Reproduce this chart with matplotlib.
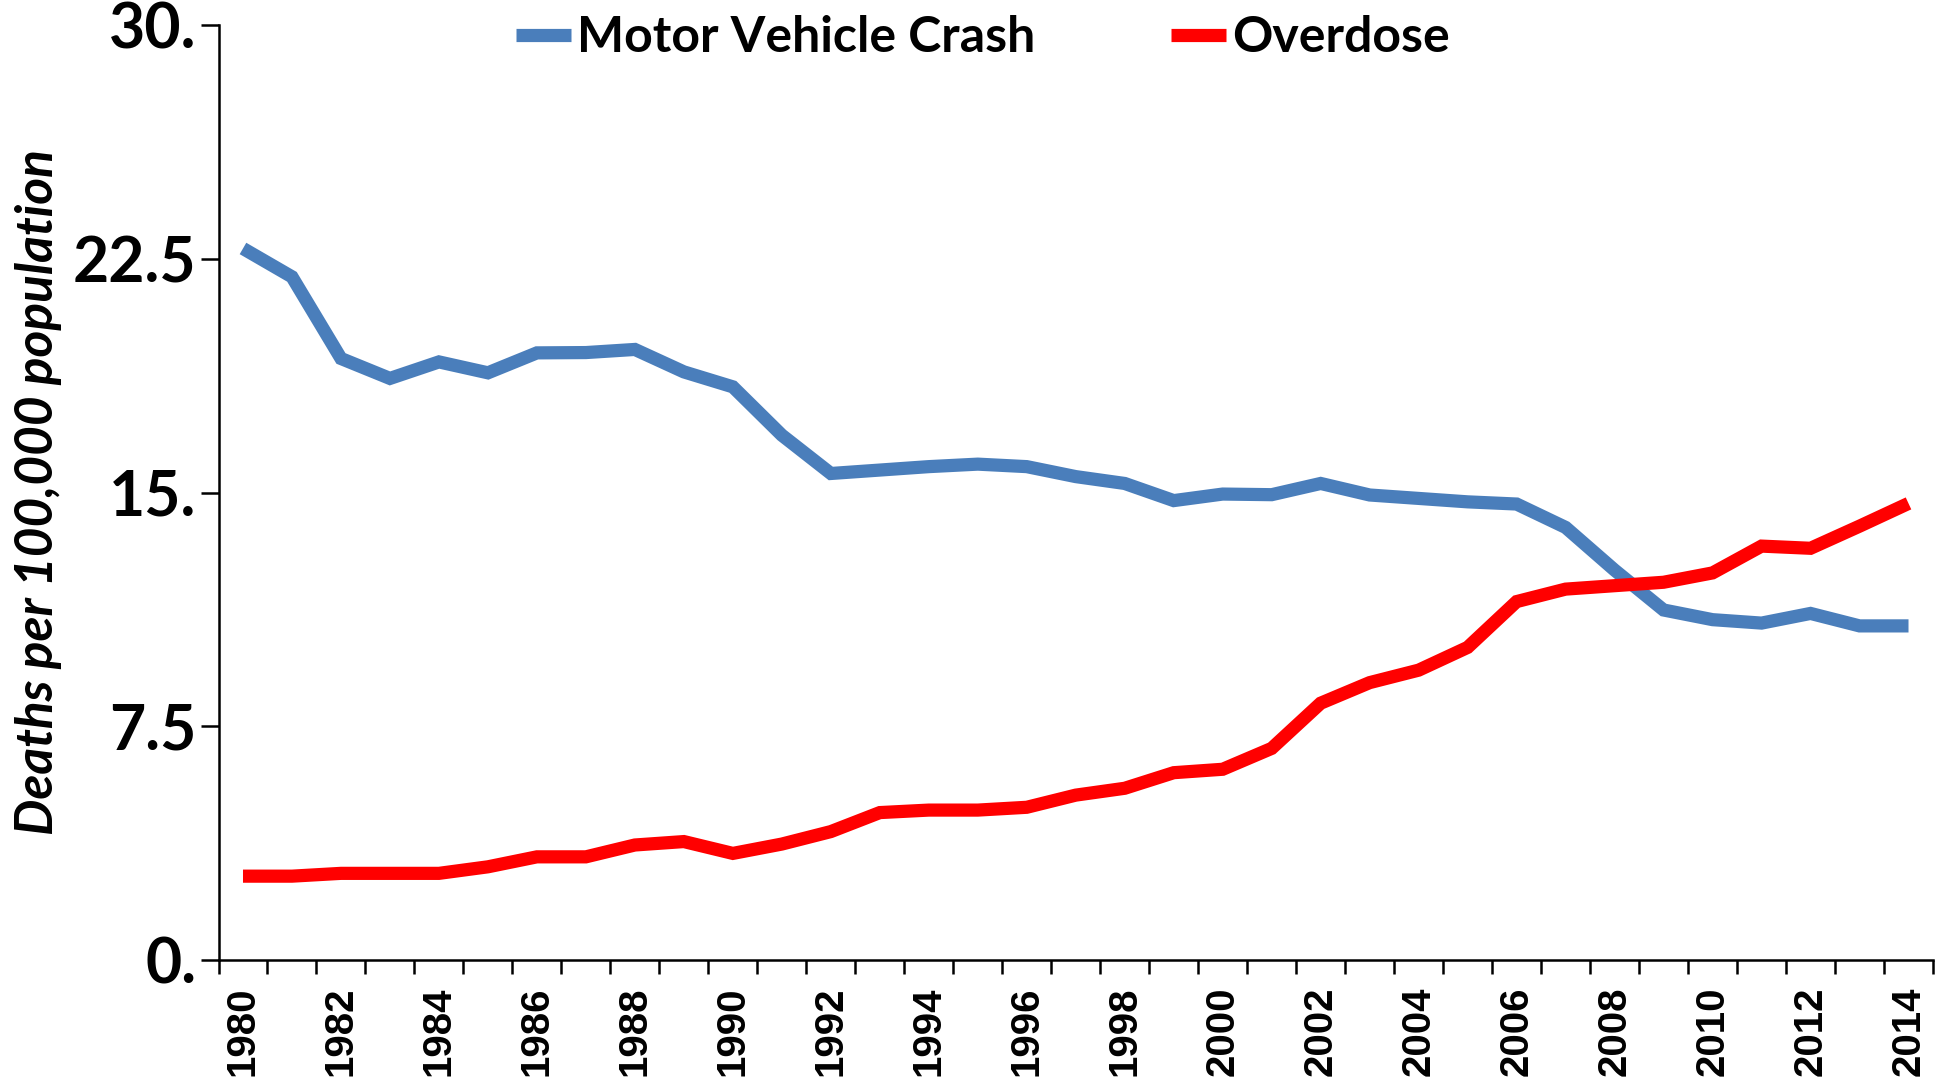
import numpy as np
import matplotlib
matplotlib.use("Agg")
import matplotlib.pyplot as plt
from matplotlib import font_manager

years = [str(y) for y in range(1980, 2015)]
motor_vehicle_crash = [22.83, 21.92, 19.30, 18.66, 19.19, 18.84, 19.48, 19.49, 19.59, 18.87,
                       18.39, 16.84, 15.61, 15.72, 15.83, 15.91, 15.83, 15.51, 15.29, 14.74,
                       14.95, 14.93, 15.29, 14.92, 14.81, 14.70, 14.63, 13.88, 12.51, 11.23,
                       10.92, 10.81, 11.12, 10.72, 10.72]
overdose = [2.69, 2.69, 2.78, 2.78, 2.78, 2.99, 3.31, 3.31, 3.69, 3.80,
            3.42, 3.72, 4.12, 4.73, 4.81, 4.81, 4.90, 5.29, 5.51, 6.01,
            6.12, 6.79, 8.24, 8.90, 9.30, 10.03, 11.50, 11.90, 12.01, 12.12,
            12.42, 13.28, 13.21, 13.92, 14.65]
series_names = ["Motor Vehicle Crash", "Overdose"]
ytick_values = [0, 7.5, 15, 22.5, 30]
ytick_labels = ["0.", "7.5", "15.", "22.5", "30."]
ylabel = "Deaths per 100,000 population"

available = {f.name for f in font_manager.fontManager.ttflist}


def pick(cands):
    for c in cands:
        if c in available:
            return c
    return "DejaVu Sans"


narrow = pick(["Liberation Sans Narrow", "Lato", "Liberation Sans"])
arial = pick(["Liberation Sans", "Arimo", "DejaVu Sans"])
italic_fam = pick(["Lato", "Liberation Sans"])

W, H = 1947, 1089
fig = plt.figure(figsize=(W / 100, H / 100), dpi=100)
left, right, top, bottom = 218.5, 1933, 25, 960
ax = fig.add_axes([left / W, 1 - bottom / H, (right - left) / W, (bottom - top) / H])

x = np.arange(len(years))
l1, = ax.plot(x, motor_vehicle_crash, color="#4A7EBB", lw=9.5,
              solid_joinstyle="miter", solid_capstyle="butt", label=series_names[0])
l2, = ax.plot(x, overdose, color="#FF0000", lw=9.5,
              solid_joinstyle="miter", solid_capstyle="butt", label=series_names[1])

ax.set_xlim(-0.5, len(years) - 0.5)
ax.set_ylim(0, 30)

ax.set_xticks(np.arange(-0.5, len(years)), labels=[])
ax.set_xticks(x[::2], labels=years[::2], minor=True)
ax.tick_params(axis="x", which="major", length=10, width=1.8, direction="out")
ax.tick_params(axis="x", which="minor", length=0, pad=19, labelsize=29,
               labelrotation=90, labelfontfamily=arial)
for t in ax.xaxis.get_minor_ticks():
    t.label1.set_fontweight("bold")

ax.set_yticks(ytick_values, labels=ytick_labels,
              fontfamily=[narrow, "DejaVu Sans"], fontweight="bold", fontsize=45)
ax.tick_params(axis="y", which="major", length=13, width=1.8, direction="out", pad=3)

for s in ["top", "right"]:
    ax.spines[s].set_visible(False)
for s in ["left", "bottom"]:
    ax.spines[s].set_linewidth(1.8)
    ax.spines[s].set_color("black")

ax.set_ylabel(ylabel, fontfamily=[italic_fam, "DejaVu Sans"], fontweight="bold",
              fontstyle="italic", fontsize=37)
ax.yaxis.set_label_coords((62 - left) / (right - left), 0.5)

fig.legend(handles=[l1, l2], labels=series_names, loc="center",
           bbox_to_anchor=(983 / W, 1 - 38 / H), ncol=2, frameon=False,
           handlelength=1.1, handletextpad=0.12, columnspacing=2.72,
           borderpad=0, borderaxespad=0,
           prop=font_manager.FontProperties(family=[narrow, "DejaVu Sans"],
                                            weight="bold", size=36))

fig.savefig("out.png", dpi=100, facecolor="white")
